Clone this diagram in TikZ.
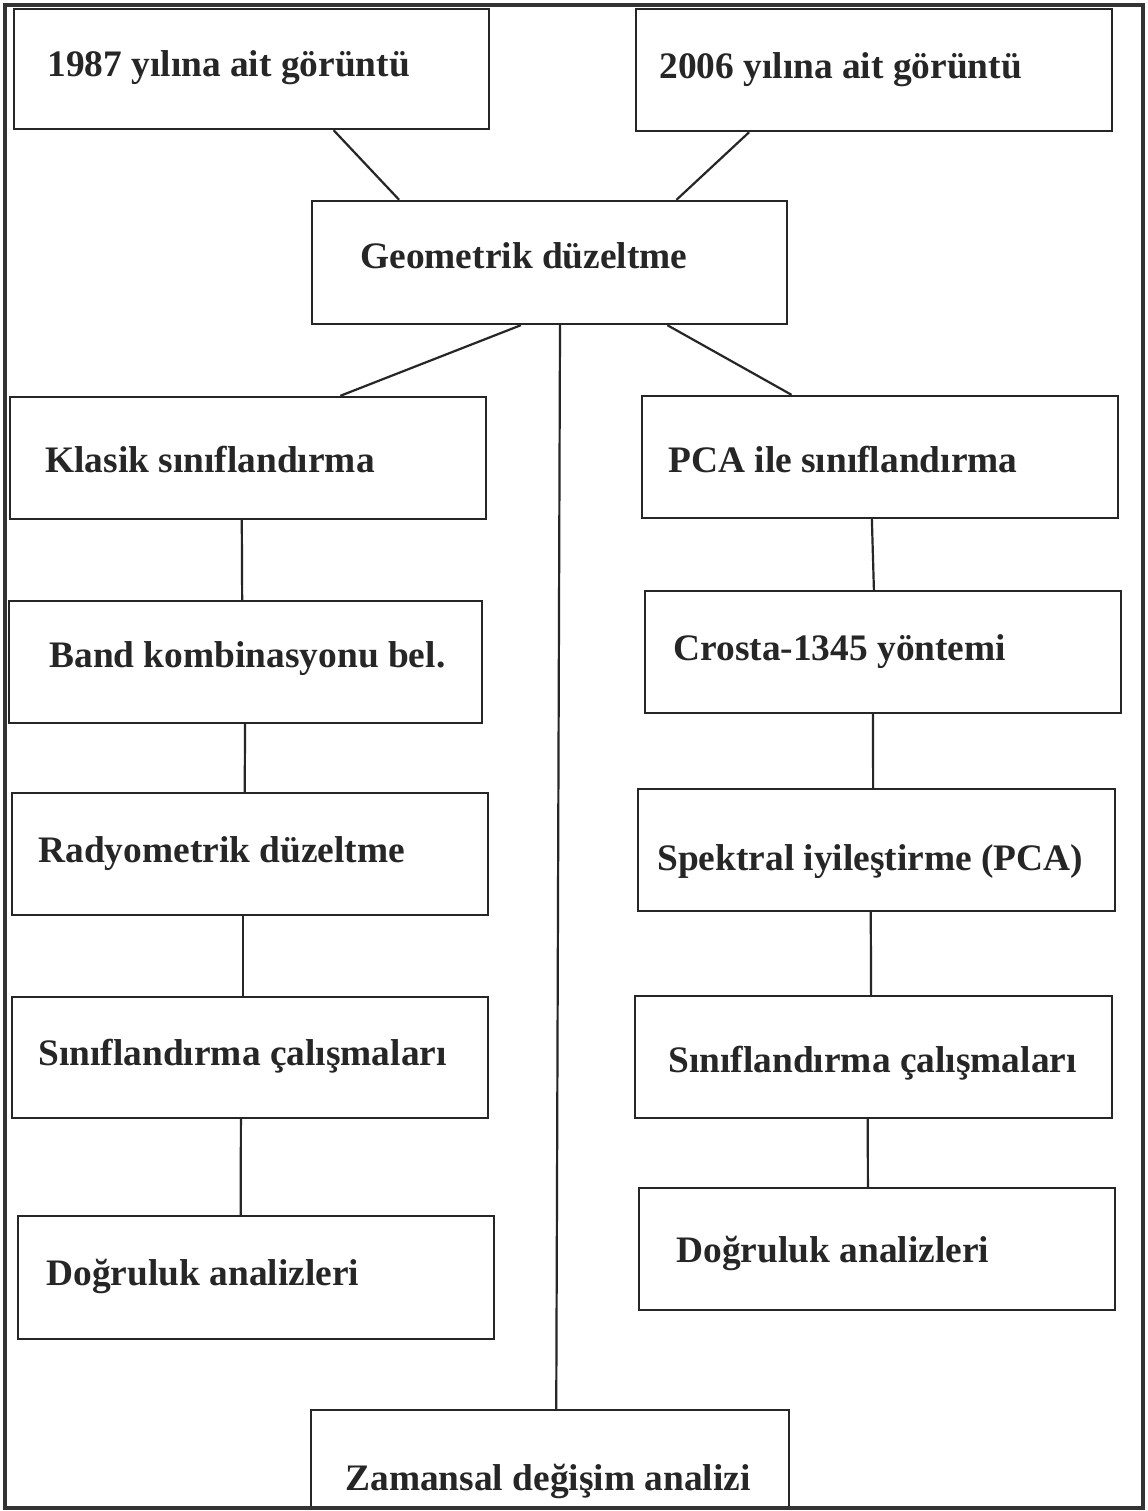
\documentclass[tikz,border=0pt]{standalone}
\usepackage{fontspec}
\setmainfont{Liberation Serif}
\usetikzlibrary{fit,calc}
\tikzset{
  box/.style={draw=black!85, line width=1.2pt, inner sep=0pt, rectangle},
  lbl/.style={anchor=base west, inner sep=0pt, text=black!85, font=\bfseries\fontsize{18.7pt}{22pt}\selectfont},
  conn/.style={draw=black!85, line width=1.1pt},
  frame/.style={draw=black!80, line width=2.4pt}
}
\newcommand\conn[4]{\draw[conn] ($(#1.south west)!#2!(#1.south east)$) -- ($(#3.north west)!#4!(#3.north east)$);}
\begin{document}
\begin{tikzpicture}[x=0.5pt,y=-0.5pt]
\useasboundingbox (0,0) rectangle (1147,1511);
\fill[white] (0,0) rectangle (1147,1511);
% boxes
\node[box, fit={(14,9) (489,129)}] (b1) {};
\node[box, fit={(636,9) (1112,131)}] (b2) {};
\node[box, fit={(312,201) (787,324)}] (b3) {};
\node[box, fit={(10,397) (486,519)}] (b4) {};
\node[box, fit={(642,396) (1118,518)}] (b5) {};
\node[box, fit={(9,601) (482,723)}] (b6) {};
\node[box, fit={(645,591) (1121,713)}] (b7) {};
\node[box, fit={(12,793) (488,915)}] (b8) {};
\node[box, fit={(638,789) (1115,911)}] (b9) {};
\node[box, fit={(12,997) (488,1118)}] (b10) {};
\node[box, fit={(635,996) (1112,1118)}] (b11) {};
\node[box, fit={(18,1216) (494,1339)}] (b12) {};
\node[box, fit={(639,1188) (1115,1310)}] (b13) {};
\node[box, fit={(311,1410) (789,1508)}] (b14) {};
% labels
\node[lbl] (t1) at (47,76) {1987 yılına ait görüntü};
\node[lbl] (t2) at (659,78) {2006 yılına ait görüntü};
\node[lbl] (t3) at (360,268) {Geometrik düzeltme};
\node[lbl] (t4) at (45,472) {Klasik sınıflandırma};
\node[lbl] (t5) at (668,472) {PCA ile sınıflandırma};
\node[lbl] (t6) at (49,667) {Band kombinasyonu bel.};
\node[lbl] (t7) at (673,660) {Crosta-1345 yöntemi};
\node[lbl] (t8) at (38,862) {Radyometrik düzeltme};
\node[lbl] (t9) at (657,870) {Spektral iyileştirme (PCA)};
\node[lbl] (t10) at (38,1065) {Sınıflandırma çalışmaları};
\node[lbl] (t11) at (668,1072) {Sınıflandırma çalışmaları};
\node[lbl] (t12) at (46,1285) {Doğruluk analizleri};
\node[lbl] (t13) at (676,1262) {Doğruluk analizleri};
\node[lbl] (t14) at (345,1490) {Zamansal değişim analizi};
% connectors
\conn{b1}{0.672}{b3}{0.185}
\conn{b2}{0.239}{b3}{0.766}
\conn{b3}{0.440}{b4}{0.693}
\conn{b3}{0.747}{b5}{0.315}
\conn{b3}{0.522}{b14}{0.513}
\conn{b4}{0.487}{b6}{0.493}
\conn{b6}{0.499}{b8}{0.489}
\conn{b8}{0.485}{b10}{0.485}
\conn{b10}{0.481}{b12}{0.468}
\conn{b5}{0.483}{b7}{0.481}
\conn{b7}{0.479}{b9}{0.493}
\conn{b9}{0.488}{b11}{0.495}
\conn{b11}{0.488}{b13}{0.481}
% outer frame
\draw[frame] (5,5) rectangle (1143,1508);
\end{tikzpicture}
\end{document}
